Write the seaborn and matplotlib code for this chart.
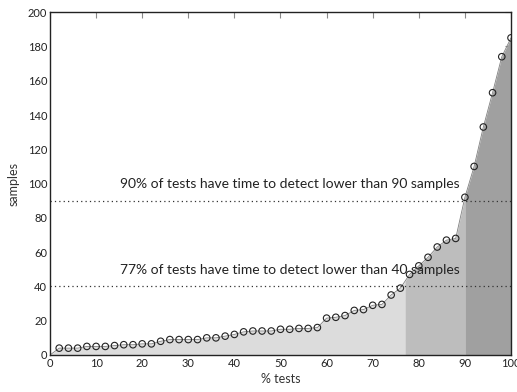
import numpy as np
import pandas as pd
import matplotlib
matplotlib.use("Agg")
import matplotlib.pyplot as plt
import seaborn as sns

pct_tests = [2, 4, 6, 8, 10, 12, 14, 16, 18, 20, 22, 24, 26, 28, 30, 32, 34, 36, 38, 40,
             42, 44, 46, 48, 50, 52, 54, 56, 58, 60, 62, 64, 66, 68, 70, 72, 74, 76, 78, 80,
             82, 84, 86, 88, 90, 92, 94, 96, 98, 100]
samples = [4, 4, 4, 5, 5, 5, 5.5, 6, 6, 6.5, 6.5, 8, 9, 9, 9, 9, 10, 10, 11, 12,
           13.5, 14, 14, 14, 15, 15, 15.5, 15.5, 16, 21.5, 22, 23, 26, 26.5, 29, 29.5, 35, 39, 47, 52,
           57, 63, 67, 68, 92, 110, 133, 153, 174, 185]
thresholds = [77, 90]
thr_samples = [40, 90]
labels = ["77% of tests have time to detect lower than 40 samples",
          "90% of tests have time to detect lower than 90 samples"]
fills = ["#dcdcdc", "#bdbdbd", "#a0a0a0"]

sns.set_theme(style="white")
plt.rcParams['font.family'] = ['Lato', 'DejaVu Sans']

df = pd.DataFrame({"pct": pct_tests, "samples": samples})

fig = plt.figure(figsize=(5.17, 3.92), dpi=100)
ax = fig.add_axes([0.0967, 0.0944, 0.8917, 0.8746])

xs = np.array([0] + pct_tests, dtype=float)
ys = np.array([0] + samples, dtype=float)
bounds = [0] + thresholds + [100]
for i in range(3):
    lo, hi = bounds[i], bounds[i + 1]
    xx = np.concatenate([[lo], xs[(xs > lo) & (xs < hi)], [hi]])
    yy = np.interp(xx, xs, ys)
    ax.fill_between(xx, 0, yy, color=fills[i], linewidth=0, zorder=1)

ax.plot(xs, ys, color="#808080", linewidth=0.6, zorder=2)

for t, s, lab in zip(thresholds, thr_samples, labels):
    ax.axhline(s, color="#333333", linestyle=(0, (1, 2.5)), linewidth=0.9, zorder=3)
    ax.text(52, s + 9.5, lab, ha="center", va="center", fontsize=10, color="#222222", zorder=5)

sns.scatterplot(data=df, x="pct", y="samples", ax=ax, marker="o", s=22,
                facecolors="none", edgecolor="#222222", linewidth=0.8, zorder=4)

ax.set_xlim(0, 100)
ax.set_ylim(0, 200)
ax.set_xticks(range(0, 101, 10))
ax.set_yticks(range(0, 201, 20))
ax.tick_params(direction="in", length=4, width=0.8, color="#888888", labelsize=8,
               top=True, right=True, labelcolor="#222222", pad=2)
ax.set_xlabel("% tests", fontsize=9, color="#333333", labelpad=3)
ax.set_ylabel("samples", fontsize=9, color="#333333", labelpad=6)
for sp in ax.spines.values():
    sp.set_color("#222222")
    sp.set_linewidth(1.0)
    sp.set_zorder(6)

fig.savefig("out.png", dpi=100)
